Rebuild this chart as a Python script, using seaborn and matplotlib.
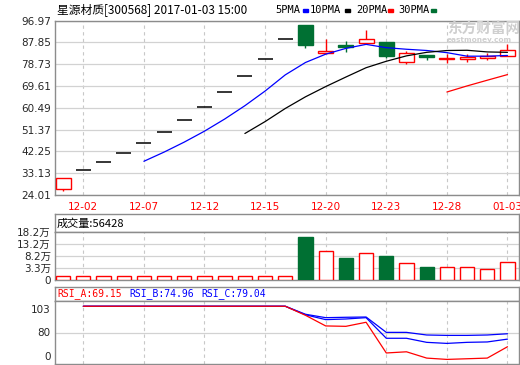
import matplotlib
matplotlib.use('Agg')
import matplotlib.pyplot as plt
from matplotlib.patches import Rectangle
import seaborn as sns
import numpy as np

sns.set_theme(style="white")
plt.rcParams['font.family'] = ['Noto Sans CJK SC', 'DejaVu Sans']
plt.rcParams['axes.unicode_minus'] = False

# data
dates = ['12-01', '12-02', '12-05', '12-06', '12-07', '12-08', '12-09', '12-12',
         '12-13', '12-14', '12-15', '12-16', '12-19', '12-20', '12-21', '12-22',
         '12-23', '12-26', '12-27', '12-28', '12-29', '12-30', '01-03']
opens = [26.6, 34.35, 37.83, 41.6, 45.8, 50.25, 55.3, 60.7, 67.0, 73.7, 80.9, 89.2,
         95.3, 83.6, 86.8, 87.5, 88.2, 79.8, 82.6, 81.1, 81.1, 81.5, 82.3]
closes = [31.0, 34.35, 37.83, 41.6, 45.8, 50.25, 55.3, 60.7, 67.0, 73.7, 80.9, 89.2,
          86.6, 84.4, 85.8, 89.3, 82.3, 83.3, 81.8, 81.3, 81.9, 82.3, 84.8]
highs = [31.0, 34.35, 37.83, 41.6, 45.8, 50.25, 55.3, 60.7, 67.0, 73.7, 80.9, 89.2,
         95.3, 89.3, 88.5, 93.1, 88.2, 84.3, 82.6, 83.0, 83.2, 83.3, 87.3]
lows = [25.7, 34.35, 37.83, 41.6, 45.8, 50.25, 55.3, 60.7, 67.0, 73.7, 80.9, 89.2,
        85.7, 83.6, 84.0, 87.3, 81.2, 79.0, 80.6, 79.4, 79.8, 80.6, 82.3]
volumes = [0.22, 0.22, 0.22, 0.22, 0.22, 0.22, 0.22, 0.22, 0.22, 0.22, 0.22, 0.22,
           16.2, 10.4, 7.5, 9.45, 8.33, 5.3, 3.76, 3.63, 3.63, 2.8, 5.64]  # 万

ma5 = [38.12, 41.97, 46.16, 50.73, 55.81, 61.39, 67.52, 74.3, 79.48, 82.96,
       85.38, 87.06, 85.68, 85.02, 84.5, 83.6, 82.12, 82.12, 82.42]       # from 12-07
ma10 = [49.75, 54.74, 60.23, 65.11, 69.39, 73.39, 77.29, 79.99, 82.25, 83.73,
        84.49, 84.59, 83.9, 83.72]                                       # from 12-14
ma20 = [67.12, 69.67, 72.06, 74.41]                                      # from 12-28

rsi_a = [100] * 11 + [93.1, 85.0, 84.7, 87.8, 64.4, 65.3, 60.5, 59.5, 60.0, 60.5, 69.15]
rsi_b = [100] * 11 + [93.5, 89.8, 90.3, 91.3, 75.6, 75.6, 72.5, 71.7, 72.5, 72.8, 74.96]
rsi_c = [100] * 11 + [93.9, 91.3, 91.6, 91.8, 80.1, 80.1, 78.1, 77.8, 77.8, 78.1, 79.04]

date_ticks = ['12-02', '12-07', '12-12', '12-15', '12-20', '12-23', '12-28', '01-03']
price_ticks = [96.97, 87.85, 78.73, 69.61, 60.49, 51.37, 42.25, 33.13, 24.01]
vol_floor = -1.65
vol_tick_values = [vol_floor, 3.3, 8.2, 13.2, 18.2]
vol_tick_labels = ['0', '3.3万', '8.2万', '13.2万', '18.2万']
rsi_tick_values = [97.6, 80, 62.4]
rsi_tick_labels = ['103', '80', '0']

RED = '#ff0000'
GREEN = '#007033'
SPINE = '#8c8c8c'
GRID = '#d2d2d2'
W, H = 520, 365

fig = plt.figure(figsize=(W / 100, H / 100), dpi=100)
fig.patch.set_facecolor('white')


def px_axes(x0, y0, x1, y1):
    a = fig.add_axes([x0 / W, 1 - y1 / H, (x1 - x0) / W, (y1 - y0) / H])
    a.set_facecolor('white')
    for s in a.spines.values():
        s.set_color(SPINE)
        s.set_linewidth(1.0)
    return a


def ftext(x, y, s, **kw):
    fig.text(x / W, 1 - y / H, s, va='center', ha='left', **kw)


idx = np.arange(len(dates))
tick_idx = [dates.index(d) for d in date_ticks]
xlim = (-0.4, 22.57)
tick_font = ['DejaVu Sans', 'Noto Sans CJK SC']


def vdash(a):
    for t in tick_idx:
        a.axvline(t, color='#c8c8c8', lw=0.8, ls=(0, (3, 3)), zorder=0)


# ---- price panel
ax = px_axes(55, 20.7, 519, 195)
ax.set_xlim(*xlim)
ax.set_ylim(24.01, 96.97)
ax.set_yticks(price_ticks)
ax.set_yticklabels([f'{v:.2f}' for v in price_ticks], fontsize=7.5, family=tick_font)
ax.set_xticks(tick_idx)
ax.set_xticklabels(date_ticks, fontsize=7.5, color=RED, family=tick_font)
ax.tick_params(length=0, pad=3)
ax.tick_params(axis='x', pad=5)
ax.grid(axis='y', color=GRID, lw=0.9)
ax.set_axisbelow(True)
vdash(ax)

bw = 0.75
for i in idx:
    o, c, h, l = opens[i], closes[i], highs[i], lows[i]
    if h == l:
        ax.hlines(c, i - bw / 2, i + bw / 2, color='black', lw=1.1, zorder=3)
        continue
    up = c >= o
    col = RED if up else GREEN
    ax.vlines(i, l, h, color=col, lw=1.0, zorder=2)
    ax.bar(i, max(abs(c - o), 0.25), bottom=min(o, c), width=bw,
           facecolor='white' if up else GREEN, edgecolor=col, lw=1.0, zorder=3)

sns.lineplot(x=idx[4:], y=ma5, color='#0000ff', lw=0.9, ax=ax, zorder=4)
sns.lineplot(x=idx[9:], y=ma10, color='black', lw=0.9, ax=ax, zorder=4)
sns.lineplot(x=idx[19:], y=ma20, color=RED, lw=0.9, ax=ax, zorder=4)
ax.set_xlabel('')
ax.set_ylabel('')

# title and MA legend
ftext(57, 10, '星源材质[300568] 2017-01-03 15:00', fontsize=8.5, color='black')
mono = ['DejaVu Sans Mono']
for lx, label, rx, col in [(275, '5PMA', 303, '#0000ff'), (310, '10PMA', 345, 'black'),
                           (356, '20PMA', 388, RED), (398, '30PMA', 431, GREEN)]:
    ftext(lx, 10, label, fontsize=7.5, family=mono, color='black')
    fig.patches.append(Rectangle((rx / W, 1 - 11.5 / H), 5 / W, 3 / H,
                                 transform=fig.transFigure, color=col))

# watermark
ftext(447, 29, '东方财富网', fontsize=10.5, color='#cfcfcf', fontweight='bold')
ftext(447, 40, 'eastmoney.com', fontsize=5.3, color='#cfcfcf', fontweight='bold',
      family=['DejaVu Sans'])

# ---- volume panel
hv = px_axes(55, 214, 519, 232.3)
hv.set_xticks([])
hv.set_yticks([])
ftext(57, 223.5, '成交量:56428', fontsize=8, color='black')

av = px_axes(55, 232.3, 519, 280)
av.set_xlim(*xlim)
av.set_ylim(vol_floor, 18.2)
av.set_yticks(vol_tick_values)
av.set_yticklabels(vol_tick_labels, fontsize=7.5, family=tick_font)
av.set_xticks([])
av.tick_params(length=0, pad=3)
av.grid(axis='y', color=GRID, lw=0.9)
av.set_axisbelow(True)
vdash(av)
for i in idx:
    up = closes[i] >= opens[i]
    col = RED if up else GREEN
    av.bar(i, volumes[i] - vol_floor, bottom=vol_floor, width=0.71,
           facecolor='white' if up else GREEN, edgecolor=col, lw=1.0, zorder=3)

# ---- RSI panel
hr = px_axes(55, 287, 519, 301)
hr.set_xticks([])
hr.set_yticks([])
ftext(57, 294, 'RSI_A:69.15', fontsize=7, family=mono, color=RED)
ftext(129, 294, 'RSI_B:74.96', fontsize=7, family=mono, color='#0000ff')
ftext(201, 294, 'RSI_C:79.04', fontsize=7, family=mono, color='#0000ff')

ar = px_axes(55, 301, 519, 364)
ar.set_xlim(*xlim)
ar.set_ylim(56.0, 104.0)
ar.set_yticks(rsi_tick_values)
ar.set_yticklabels(rsi_tick_labels, fontsize=7.5, family=tick_font)
ar.set_xticks([])
ar.tick_params(length=0, pad=3)
ar.axhline(80, color=GRID, lw=0.9, zorder=0)
vdash(ar)
sns.lineplot(x=idx[1:], y=rsi_c, color='#0000ff', lw=0.9, ax=ar)
sns.lineplot(x=idx[1:], y=rsi_b, color='#0000ff', lw=0.9, ax=ar)
sns.lineplot(x=idx[1:], y=rsi_a, color=RED, lw=0.9, ax=ar)
ar.set_xlabel('')
ar.set_ylabel('')

fig.savefig('out.png', dpi=100, facecolor='white')
